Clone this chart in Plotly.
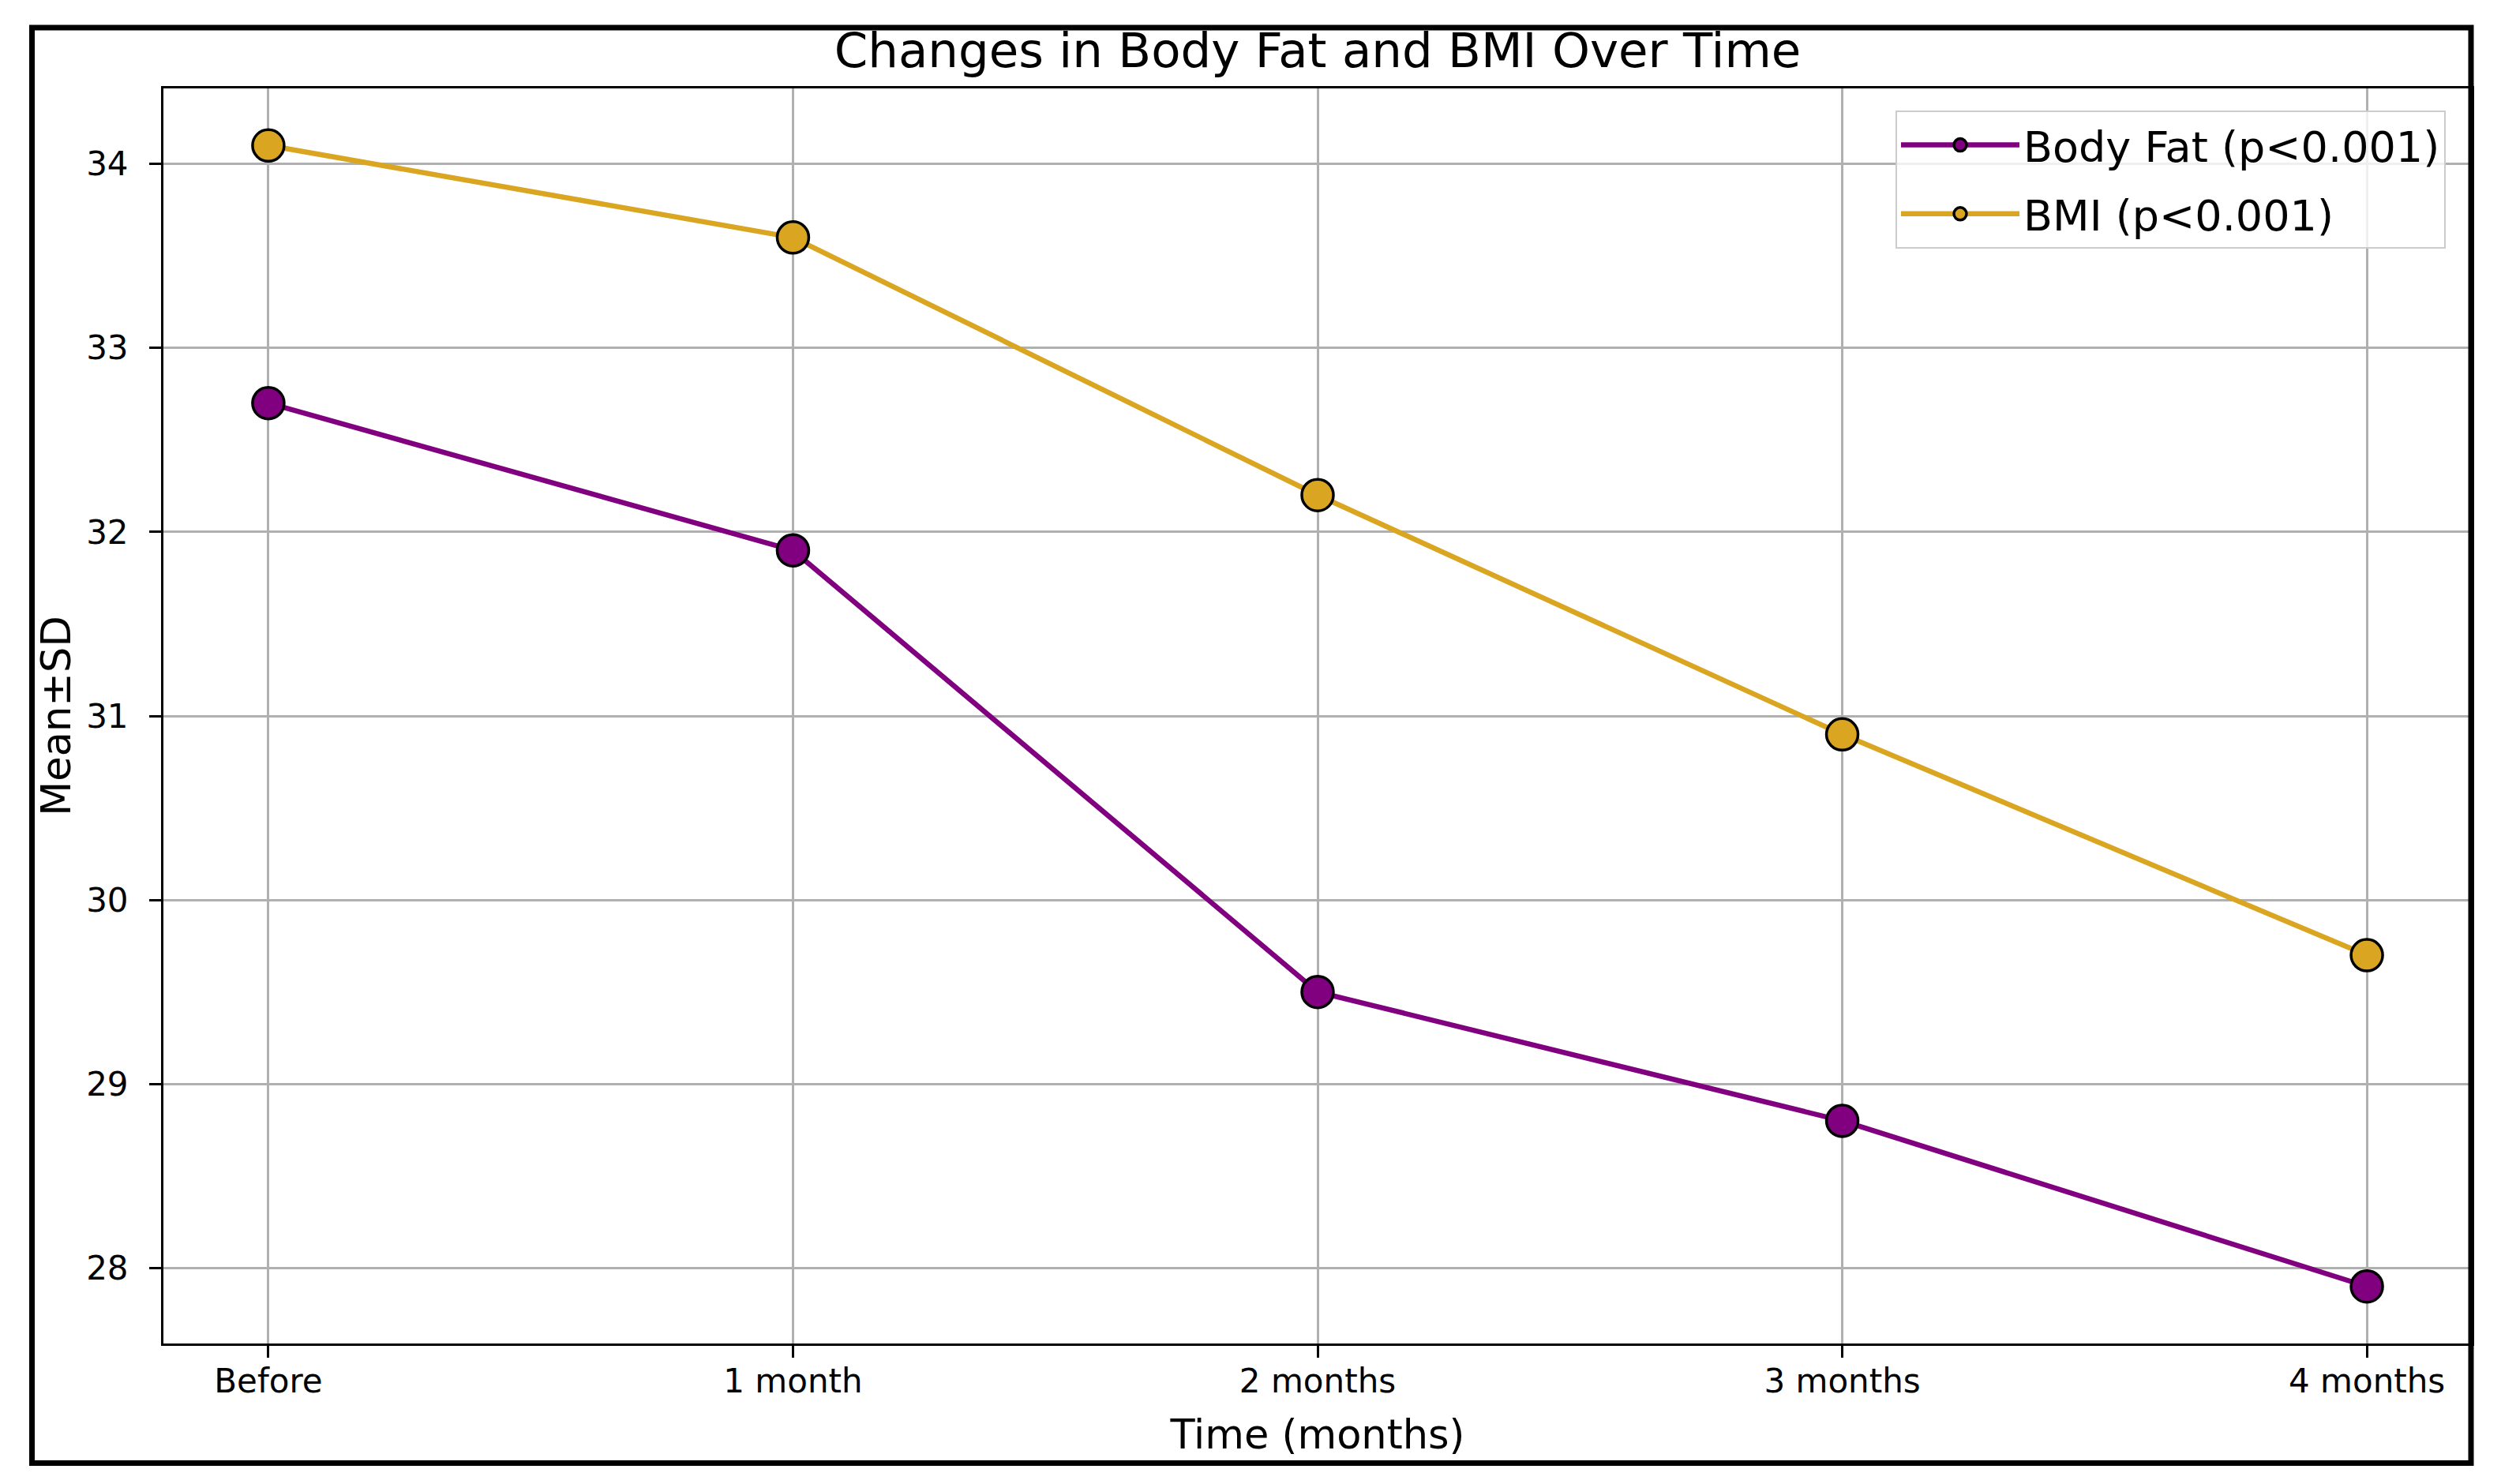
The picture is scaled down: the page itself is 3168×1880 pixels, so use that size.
import plotly.graph_objects as go

# ---- data ----
time_labels = ["Before", "1 month", "2 months", "3 months", "4 months"]
body_fat = [32.7, 31.9, 29.5, 28.8, 27.9]
bmi = [34.1, 33.6, 32.2, 30.9, 29.7]
y_ticks = [28, 29, 30, 31, 32, 33, 34]

# ---- layout geometry (pixels) ----
W, H = 3168, 1880
PL, PR, PT, PB = 207, 3131, 112, 1702
pw, ph = PR - PL, PB - PT

def px_x(p):
    return (p - PL) / pw

def px_y(p):
    return (PB - p) / ph

FONT = "DejaVu Sans"
PURPLE = "#800080"
GOLD = "#DAA520"

fig = go.Figure()
fig.add_trace(go.Scatter(
    x=time_labels, y=body_fat, mode="lines+markers", name="Body Fat (p<0.001)",
    legendgroup="a",
    line=dict(color=PURPLE, width=6.5),
    marker=dict(size=40, color=PURPLE, line=dict(color="black", width=3.5)),
))
fig.add_trace(go.Scatter(
    x=time_labels, y=bmi, mode="lines+markers", name="BMI (p<0.001)",
    legendgroup="b",
    line=dict(color=GOLD, width=6.5),
    marker=dict(size=40, color=GOLD, line=dict(color="black", width=3.5)),
))

n = len(time_labels)
span = max(max(body_fat), max(bmi)) - min(min(body_fat), min(bmi))
ylo = min(min(body_fat), min(bmi)) - 0.05 * span
yhi = max(max(body_fat), max(bmi)) + 0.05 * span

axis_common = dict(
    showline=True, linecolor="black", linewidth=3, mirror=True,
    ticks="outside", ticklen=15, tickwidth=2.5, tickcolor="black",
    showgrid=True, gridcolor="#b0b0b0", gridwidth=2.5,
    zeroline=False,
    tickfont=dict(family=FONT, size=42, color="black"),
)

fig.update_layout(
    width=W, height=H,
    margin=dict(l=PL, r=W - PR, t=PT, b=H - PB, pad=0),
    paper_bgcolor="white", plot_bgcolor="white",
    font=dict(family=FONT, color="black"),
    title=dict(
        text="Changes in Body Fat and BMI Over Time",
        font=dict(family=FONT, size=61, color="black"),
        x=0.5, xref="paper", xanchor="center",
        y=1 - 64 / H, yref="container", yanchor="middle",
    ),
    xaxis=dict(
        type="category", range=[-0.05 * (n - 1), (n - 1) * 1.05],
        title=dict(text="Time (months)", font=dict(family=FONT, size=51), standoff=26),
        ticklabelstandoff=-6,
        **axis_common,
    ),
    yaxis=dict(
        range=[ylo, yhi], tickvals=y_ticks,
        title=dict(text="Mean±SD", font=dict(family=FONT, size=51), standoff=4),
        ticklabelstandoff=18,
        **axis_common,
    ),
    legend=dict(
        x=px_x(2401), y=px_y(140), xanchor="left", yanchor="top",
        bgcolor="rgba(255,255,255,0.8)", bordercolor="#cccccc", borderwidth=2,
        font=dict(family=FONT, size=54, color="black"),
        traceorder="grouped", tracegroupgap=14,
        itemwidth=150,
    ),
    showlegend=True,
)

# outer black frame around the whole figure
fig.add_shape(
    type="rect", xref="paper", yref="paper",
    x0=px_x(40.5), x1=px_x(3130), y0=px_y(1853.5), y1=px_y(35),
    line=dict(color="black", width=7), fillcolor="rgba(0,0,0,0)", layer="above",
)

fig.write_html(
    "out.html",
    config={"displayModeBar": False},
    post_script="document.body.style.margin='0';",
)
